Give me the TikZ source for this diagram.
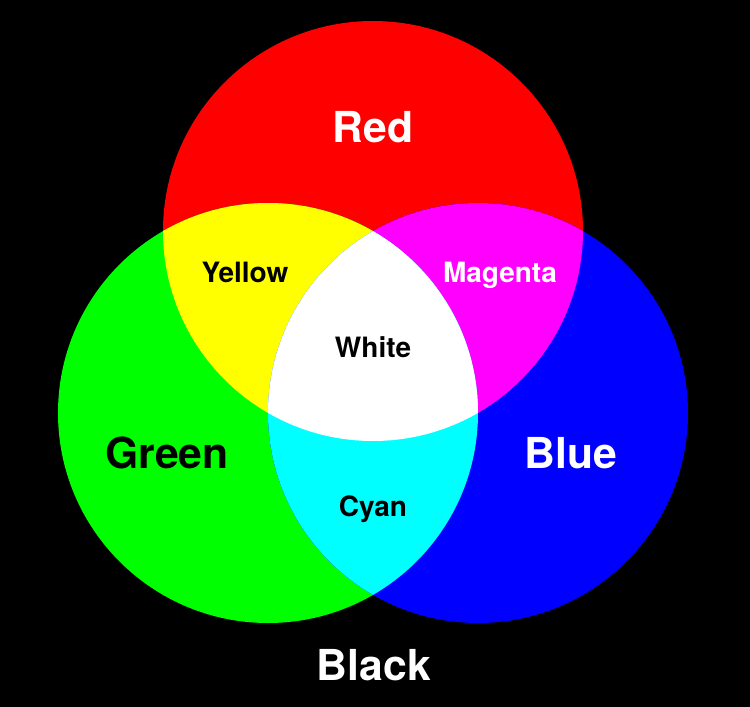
\documentclass[tikz,border=0pt]{standalone}
\usepackage{fontspec}
\setmainfont{TeX Gyre Heros}
\usetikzlibrary{positioning}
\definecolor{lightR}{HTML}{FF0000}
\definecolor{lightG}{HTML}{00FF00}
\definecolor{lightB}{HTML}{0000FF}
\definecolor{lightY}{HTML}{FFFF00}
\definecolor{lightM}{HTML}{FF00FF}
\definecolor{lightC}{HTML}{00FFFF}
\tikzset{
  biglabel/.style={font=\fontsize{32}{32}\selectfont\bfseries, inner sep=0pt, anchor=base},
  smalllabel/.style={font=\fontsize{21}{21}\selectfont\bfseries, inner sep=0pt, anchor=base}
}

\begin{document}
\begin{tikzpicture}[x=0.75pt,y=-0.75pt]
\fill[black] (0,0) rectangle (750,707);
\coordinate (cR) at (373,231);
\coordinate (cG) at (268,413);
\coordinate (cB) at (478,413);
% primaries
\foreach \c/\col in {cR/lightR,cG/lightG,cB/lightB} {
  \fill[\col] (\c) circle [radius=210];
}
% secondaries
\begin{scope}
  \clip (cR) circle [radius=210];
  \fill[lightY] (cG) circle [radius=210];
  \fill[lightM] (cB) circle [radius=210];
\end{scope}
\begin{scope}
  \clip (cG) circle [radius=210];
  \fill[lightC] (cB) circle [radius=210];
\end{scope}
\begin{scope}
  \clip (cR) circle [radius=210];
  \clip (cG) circle [radius=210];
  \fill[white] (cB) circle [radius=210];
\end{scope}
% labels
\node[biglabel, text=white] (red) at (373,142) {Red};
\node[biglabel, text=black] (green) at (167,468) {Green};
\node[biglabel, text=white] (blue) at (571,468) {Blue};
\node[biglabel, text=white] (black) at (374,680) {Black};
\node[smalllabel, text=black] (yellow) at (245,282) {Yellow};
\node[smalllabel, text=white] (magenta) at (500,282) {Magenta};
\node[smalllabel, text=black] (white) at (373,357) {White};
\node[smalllabel, text=black] (cyan) at (373,516) {Cyan};
\end{tikzpicture}
\end{document}
